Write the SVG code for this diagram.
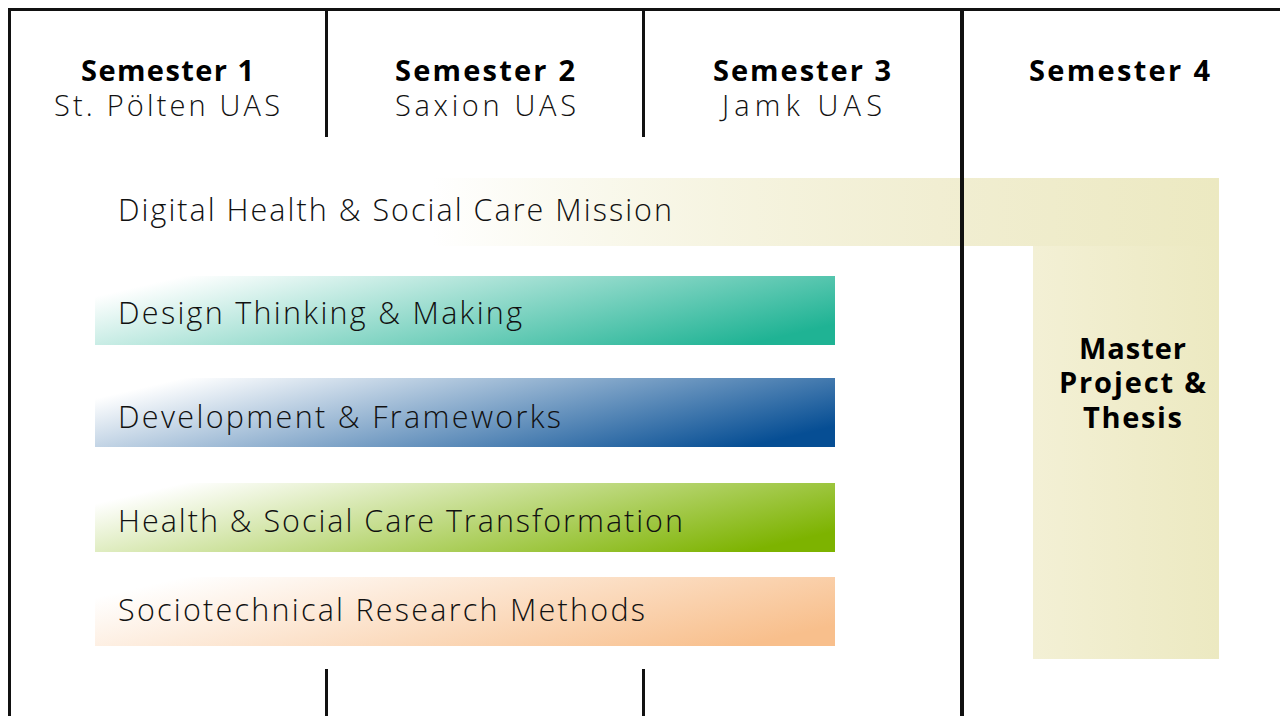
<svg xmlns="http://www.w3.org/2000/svg" width="1280" height="716" viewBox="0 0 1280 716">
<style>
.lbl{font-family:"Open Sans","Liberation Sans",sans-serif;font-weight:300;font-size:30.5px;fill:#111}
.hd{font-family:"Open Sans","Liberation Sans",sans-serif;font-weight:700;font-size:29px;fill:#000;text-anchor:middle}
.sub{font-weight:300;fill:#111}
.ln{stroke:#111;fill:none}
</style>
<defs>
<linearGradient id="gm" x1="0" y1="0" x2="1" y2="0">
<stop offset="0" stop-color="#ece9c0" stop-opacity="0"/>
<stop offset="0.3" stop-color="#ece9c0" stop-opacity="0"/>
<stop offset="0.75" stop-color="#f1eed2" stop-opacity="1"/>
<stop offset="1" stop-color="#ece9c1"/>
</linearGradient>
<linearGradient id="gv" x1="0" y1="0" x2="1" y2="0">
<stop offset="0" stop-color="#f3f0d5"/>
<stop offset="1" stop-color="#ece9c1"/>
</linearGradient>
<linearGradient id="g1" x1="0" y1="0.3" x2="1" y2="0.7"><stop offset="0" stop-color="#fff"/><stop offset="1" stop-color="#1fb394"/></linearGradient>
<linearGradient id="g2" x1="0" y1="0.3" x2="1" y2="0.7"><stop offset="0" stop-color="#fff"/><stop offset="1" stop-color="#064e94"/></linearGradient>
<linearGradient id="g3" x1="0" y1="0.3" x2="1" y2="0.7"><stop offset="0" stop-color="#fff"/><stop offset="1" stop-color="#7db300"/></linearGradient>
<linearGradient id="g4" x1="0" y1="0.3" x2="1" y2="0.7"><stop offset="0" stop-color="#fff"/><stop offset="1" stop-color="#f8bf8c"/></linearGradient>
</defs>
<rect width="1280" height="716" fill="#fff"/>
<g id="mission">
<rect x="95" y="178" width="1124" height="68" fill="url(#gm)"/>
<rect x="1033" y="246" width="186" height="413" fill="url(#gv)"/>
<text class="lbl" x="118" y="221" textLength="554" lengthAdjust="spacing">Digital Health &amp; Social Care Mission</text>
<text class="hd"><tspan x="1132.5" y="359" textLength="107" lengthAdjust="spacing">Master</tspan><tspan x="1132.5" y="393" textLength="147" lengthAdjust="spacing">Project &amp;</tspan><tspan x="1132.5" y="428" textLength="99" lengthAdjust="spacing">Thesis</tspan></text>
</g>
<g id="grid">
<path class="ln" stroke-width="3" d="M9.5 716V9.5H1280"/>
<path class="ln" stroke-width="3" d="M326.5 9V137M643.5 9V137M326.5 669V716M643.5 669V716"/>
<path class="ln" stroke-width="4" d="M962 9V716"/>
</g>
<g id="headers">
<text class="hd"><tspan x="167.5" y="81" textLength="173" lengthAdjust="spacing">Semester 1</tspan><tspan class="sub" x="167" y="116" textLength="226" lengthAdjust="spacing">St. Pölten UAS</tspan></text>
<text class="hd"><tspan x="485" y="81" textLength="180" lengthAdjust="spacing">Semester 2</tspan><tspan class="sub" x="485.5" y="116" textLength="181" lengthAdjust="spacing">Saxion UAS</tspan></text>
<text class="hd"><tspan x="802" y="81" textLength="178" lengthAdjust="spacing">Semester 3</tspan><tspan class="sub" x="802" y="116" textLength="160" lengthAdjust="spacing">Jamk UAS</tspan></text>
<text class="hd" x="1119.5" y="81" textLength="181" lengthAdjust="spacing">Semester 4</text>
</g>
<g id="design"><rect x="95" y="276" width="740" height="69" fill="url(#g1)"/><text class="lbl" x="118" y="324" textLength="404" lengthAdjust="spacing">Design Thinking &amp; Making</text></g>
<g id="development"><rect x="95" y="378" width="740" height="69" fill="url(#g2)"/><text class="lbl" x="118" y="428" textLength="443" lengthAdjust="spacing">Development &amp; Frameworks</text></g>
<g id="health"><rect x="95" y="483" width="740" height="69" fill="url(#g3)"/><text class="lbl" x="118" y="532" textLength="565" lengthAdjust="spacing">Health &amp; Social Care Transformation</text></g>
<g id="research"><rect x="95" y="577" width="740" height="69" fill="url(#g4)"/><text class="lbl" x="118" y="621" textLength="527" lengthAdjust="spacing">Sociotechnical Research Methods</text></g>
</svg>
